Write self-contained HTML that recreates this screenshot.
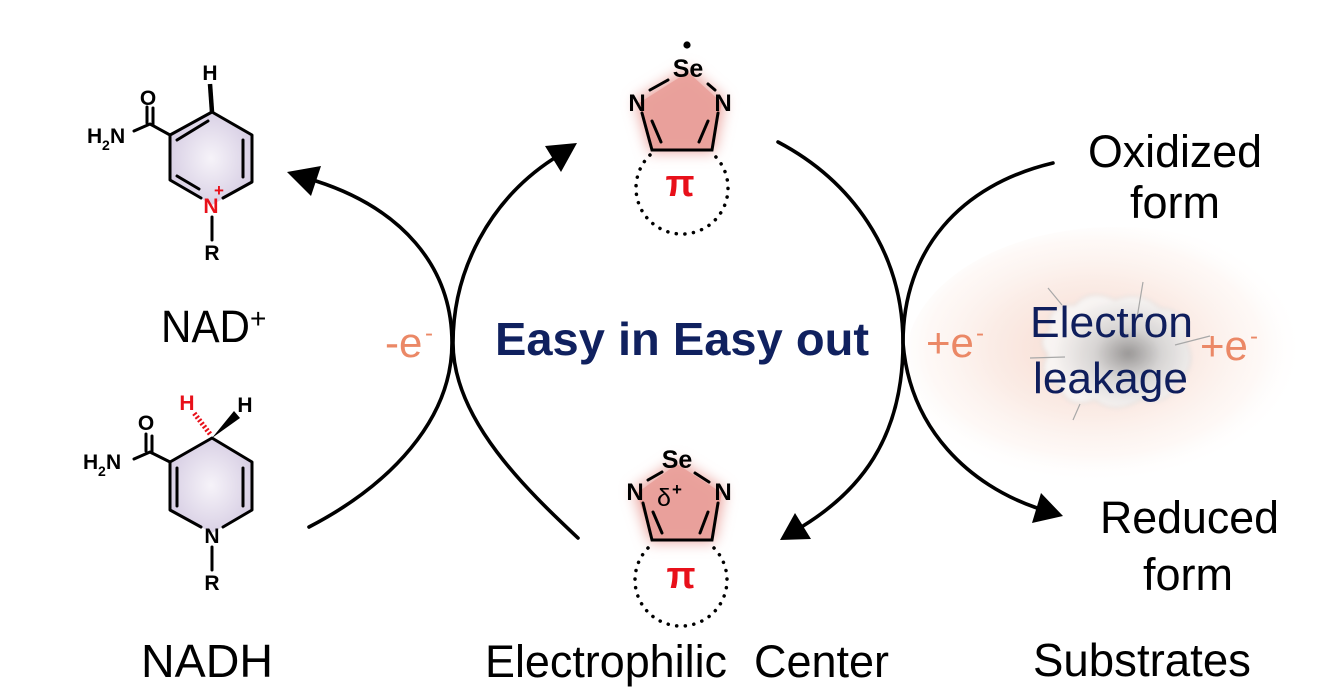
<!DOCTYPE html>
<html><head><meta charset="utf-8"><style>
html,body{margin:0;padding:0;background:#fff;}
svg{display:block;}
text{font-family:"Liberation Sans",Arial,sans-serif;}
</style></head><body>
<svg width="1331" height="699" viewBox="0 0 1331 699" xmlns="http://www.w3.org/2000/svg">
<defs>
<radialGradient id="lav" cx="50%" cy="50%" r="55%">
<stop offset="0" stop-color="#f6f3f9"/><stop offset="1" stop-color="#d6cde3"/>
</radialGradient>
<radialGradient id="pinkglow" cx="45%" cy="45%" r="50%">
<stop offset="0" stop-color="#f3c8b8" stop-opacity="0.7"/>
<stop offset="0.5" stop-color="#f8e0d6" stop-opacity="0.6"/>
<stop offset="0.8" stop-color="#fcefe9" stop-opacity="0.4"/>
<stop offset="1" stop-color="#ffffff" stop-opacity="0"/>
</radialGradient>
<radialGradient id="cloudg" cx="58%" cy="52%" r="50%">
<stop offset="0" stop-color="#8f8f8f"/><stop offset="0.45" stop-color="#d4d4d4"/><stop offset="1" stop-color="#f8f6f5"/>
</radialGradient>
<filter id="blur6" x="-50%" y="-50%" width="200%" height="200%"><feGaussianBlur stdDeviation="7"/></filter>
<filter id="blur2" x="-50%" y="-50%" width="200%" height="200%"><feGaussianBlur stdDeviation="2"/></filter>
</defs>
<rect width="1331" height="699" fill="#fff"/>

<!-- electron leakage glow -->
<ellipse cx="1115" cy="362" rx="210" ry="135" fill="url(#pinkglow)"/>
<path d="M1050,330 Q1045,305 1075,305 Q1090,288 1115,300 Q1140,290 1160,308 Q1190,310 1185,340 Q1200,365 1175,385 Q1170,405 1140,400 Q1115,415 1095,400 Q1065,410 1060,385 Q1035,375 1048,355 Q1035,340 1050,330 Z" fill="url(#cloudg)" stroke="#d0d0d0" stroke-width="1" filter="url(#blur2)" opacity="0.9"/>
<g stroke="#a8a8a8" stroke-width="1.2" fill="none">
<line x1="1048" y1="288" x2="1062" y2="305"/>
<line x1="1143" y1="282" x2="1137" y2="318"/>
<line x1="1175" y1="345" x2="1210" y2="336"/>
<line x1="1030" y1="358" x2="1065" y2="357"/>
<line x1="1080" y1="404" x2="1073" y2="420"/>
</g>

<!-- curved arrows -->
<g stroke="#000" stroke-width="3.6" fill="none" stroke-linecap="round">
<path d="M309,527 C390,485 452,420 452,343 C452,265 400,208 316,181"/>
<path d="M578,538 C528,491 453,420 453,343 C453,270 490,200 553,159"/>
<path d="M778,142 C850,180 903,250 903,343 C903,440 858,492 803,526"/>
<path d="M1053,163 C960,185 903,250 903,343 C910,430 970,485 1037,508"/>
</g>
<g fill="#000">
<polygon points="287,172 321,166 311,196"/>
<polygon points="577,143 561,172 545,146"/>
<polygon points="780,540 811,539 795,513"/>
<polygon points="1063,516 1032,523 1041,493"/>
</g>

<!-- NAD+ -->
<polygon points="212,112 252,135 252,182 212,205 170,180 170,135" fill="url(#lav)"/>
<g stroke="#000" stroke-width="3" fill="none" stroke-linejoin="round" stroke-linecap="round">
<path d="M170,135 L212,112 L252,135 L252,182 L223,198 M201,198 L170,180 L170,135"/>
<path d="M177,140 L208,121 M243,140 L243,177 M177,176 L199,189"/>
<path d="M170,135 L150,124 L134,131"/>
<path d="M147,123 L147,107 M153,125 L153,108"/>
<path d="M212,217 L212,240"/>
</g>
<line x1="210" y1="84" x2="212" y2="112" stroke="#000" stroke-width="4.5"/>
<g font-weight="bold" font-size="21" text-anchor="middle">
<text x="210" y="80">H</text>
<text x="148" y="105">O</text>
<text x="212" y="260">R</text>
<text x="211" y="213" fill="#e8101a">N</text>
<text x="219" y="196" font-size="17" fill="#e8101a">+</text>
</g>
<g font-weight="bold" font-size="21">
<text x="87" y="143">H</text>
<text x="102" y="150" font-size="14">2</text>
<text x="110" y="143">N</text>
</g>

<!-- NADH -->
<polygon points="212,438 252,462 252,510 212,533 170,510 170,462" fill="url(#lav)"/>
<g stroke="#000" stroke-width="3" fill="none" stroke-linejoin="round" stroke-linecap="round">
<path d="M170,462 L212,438 L252,462 L252,510 L223,527 M201,527 L170,510 L170,462"/>
<path d="M177,468 L177,506 M243,468 L243,506"/>
<path d="M170,462 L150,452 L134,459"/>
<path d="M146,451 L146,434 M152,453 L152,436"/>
<path d="M212,547 L212,570"/>
</g>
<line x1="210" y1="434" x2="194" y2="413" stroke="#e8101a" stroke-width="5" stroke-dasharray="2 2"/>
<polygon points="212,438 234,411 240,418" fill="#000"/>
<g font-weight="bold" font-size="21" text-anchor="middle">
<text x="187" y="410" fill="#e8101a">H</text>
<text x="245" y="412">H</text>
<text x="146" y="430">O</text>
<text x="212" y="543">N</text>
<text x="212" y="590">R</text>
</g>
<g font-weight="bold" font-size="21">
<text x="83" y="469">H</text>
<text x="98" y="476" font-size="14">2</text>
<text x="106" y="469">N</text>
</g>

<!-- top selenadiazole -->
<polygon points="688,68 635,100 650,152 714,152 725,100" fill="#eba6a0" filter="url(#blur6)"/>
<polygon points="688,72 639,103 652,150 712,150 722,103" fill="#e9a09a" opacity="0.9"/>
<path d="M650,155 A46,46 0 1,0 714,155" fill="none" stroke="#000" stroke-width="3.5" stroke-linecap="round" stroke-dasharray="0.1 8.5"/>
<g stroke="#000" stroke-width="3" fill="none" stroke-linecap="round">
<path d="M650,90 L668,80 M708,84 L715,90"/>
<path d="M642,113 L652,150 L712,150 L718,113"/>
<path d="M652,121 L661,142 M708,121 L699,142"/>
</g>
<circle cx="687" cy="45" r="3.6" fill="#000"/>
<g font-weight="bold" font-size="24" text-anchor="middle">
<text x="688" y="77" font-size="25">Se</text>
<text x="637" y="111">N</text>
<text x="723" y="111">N</text>
</g>
<text x="680" y="196" font-family="Liberation Serif,serif" font-size="38" font-weight="bold" fill="#e8101a" text-anchor="middle">π</text>

<!-- bottom selenadiazole -->
<polygon points="677,460 633,490 650,542 714,542 725,490" fill="#eba6a0" filter="url(#blur6)"/>
<polygon points="677,464 637,493 652,540 712,540 722,493" fill="#e9a09a" opacity="0.9"/>
<path d="M648,548 A46,46 0 1,0 714,548" fill="none" stroke="#000" stroke-width="3.5" stroke-linecap="round" stroke-dasharray="0.1 8.5"/>
<g stroke="#000" stroke-width="3" fill="none" stroke-linecap="round">
<path d="M648,480 L662,472 M695,473 L709,482"/>
<path d="M643,503 L652,540 L712,540 L718,503"/>
<path d="M653,512 L662,533 M708,512 L700,533"/>
</g>
<g font-weight="bold" font-size="24" text-anchor="middle">
<text x="677" y="468" font-size="25">Se</text>
<text x="635" y="500">N</text>
<text x="723" y="500">N</text>
</g>
<text x="657" y="506" font-size="25">δ</text>
<text x="672" y="495" font-size="17" font-weight="bold">+</text>
<text x="681" y="588" font-family="Liberation Serif,serif" font-size="38" font-weight="bold" fill="#e8101a" text-anchor="middle">π</text>

<!-- labels -->
<text x="161" y="342" font-size="45" textLength="89" lengthAdjust="spacingAndGlyphs">NAD</text>
<text x="250" y="328" font-size="28">+</text>
<text x="141" y="677" font-size="46" textLength="132" lengthAdjust="spacingAndGlyphs">NADH</text>
<text x="485" y="677" font-size="45" textLength="242" lengthAdjust="spacingAndGlyphs">Electrophilic</text>
<text x="754" y="677" font-size="45" textLength="135" lengthAdjust="spacingAndGlyphs">Center</text>
<text x="1033" y="676" font-size="46" textLength="218" lengthAdjust="spacingAndGlyphs">Substrates</text>
<text x="1088" y="167" font-size="45" textLength="174" lengthAdjust="spacingAndGlyphs">Oxidized</text>
<text x="1130" y="218" font-size="45" textLength="90" lengthAdjust="spacingAndGlyphs">form</text>
<text x="1100" y="533" font-size="45" textLength="179" lengthAdjust="spacingAndGlyphs">Reduced</text>
<text x="1143" y="590" font-size="45" textLength="90" lengthAdjust="spacingAndGlyphs">form</text>

<text x="495" y="355" font-size="46" font-weight="bold" fill="#10215f" textLength="374" lengthAdjust="spacingAndGlyphs">Easy in Easy out</text>

<g fill="#eb8866" font-size="42">
<text x="385" y="357">-e</text>
<text x="425" y="341" font-size="24">-</text>
<text x="926" y="357">+e</text>
<text x="976" y="341" font-size="24">-</text>
<text x="1200" y="360">+e</text>
<text x="1250" y="344" font-size="24">-</text>
</g>

<g fill="#0f1e5c" font-size="44">
<text x="1030" y="337" textLength="163" lengthAdjust="spacingAndGlyphs">Electron</text>
<text x="1033" y="393" textLength="155" lengthAdjust="spacingAndGlyphs">leakage</text>
</g>
</svg>
</body></html>
